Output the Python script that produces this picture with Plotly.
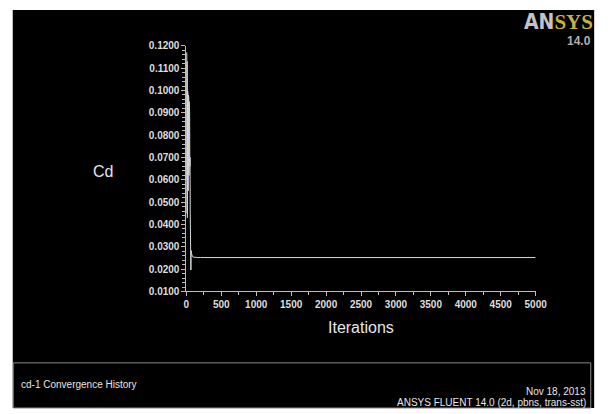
import plotly.graph_objects as go

# ---- data ----
iterations = [1, 4, 7, 10, 13, 16, 19, 22, 25, 28, 31, 34, 37, 40, 43, 46, 49, 52,
              55, 58, 61, 64, 68, 72, 78, 85, 95, 110, 130, 160, 200, 300, 500,
              1000, 2000, 3000, 4000, 5000]
cd_values = [0.060, 0.117, 0.045, 0.113, 0.043, 0.100, 0.050, 0.099, 0.055, 0.098,
             0.060, 0.097, 0.062, 0.095, 0.064, 0.090, 0.066, 0.070, 0.045, 0.040,
             0.030, 0.0196, 0.0283, 0.0272, 0.0262, 0.0257, 0.0254, 0.0253, 0.0252,
             0.0252, 0.0252, 0.0252, 0.0252, 0.0252, 0.0252, 0.0252, 0.0252, 0.0252]

y_ticks = [0.01, 0.02, 0.03, 0.04, 0.05, 0.06, 0.07, 0.08, 0.09, 0.10, 0.11, 0.12]
y_tick_labels = ["0.0100", "0.0200", "0.0300", "0.0400", "0.0500", "0.0600",
                 "0.0700", "0.0800", "0.0900", "0.1000", "0.1100", "0.1200"]
x_ticks = [0, 500, 1000, 1500, 2000, 2500, 3000, 3500, 4000, 4500, 5000]

title_left = "cd-1 Convergence History"
date_text = "Nov 18, 2013"
solver_text = "ANSYS FLUENT 14.0 (2d, pbns, trans-sst)"

W, H = 613, 414
def px(x): return x / W
def py(y): return 1 - y / H

FONT = "Liberation Sans, Arial, sans-serif"
TXT = "#e6e6e6"

fig = go.Figure()
fig.add_trace(go.Scatter(x=iterations, y=cd_values, mode="lines",
                         line=dict(color="#d8d8d8", width=1), hoverinfo="skip"))

axis_common = dict(showgrid=False, zeroline=False, showline=True, linecolor="#bdbdbd",
                   linewidth=1, ticks="outside", ticklen=4, tickcolor="#bdbdbd",
                   tickfont=dict(family=FONT, size=10, color="#dedede", weight="bold"))

fig.update_layout(
    width=W, height=H, margin=dict(l=0, r=0, t=0, b=0),
    paper_bgcolor="white", plot_bgcolor="black", showlegend=False,
    xaxis=dict(domain=[px(188), px(546)], range=[0, 5000], tickvals=x_ticks,
               ticktext=[str(v) for v in x_ticks],
               minor=dict(dtick=250, ticks="outside", ticklen=3, tickcolor="#bdbdbd"),
               **axis_common),
    yaxis=dict(domain=[py(294), py(41)], range=[0.01, 0.12], tickvals=y_ticks,
               ticktext=y_tick_labels,
               minor=dict(dtick=0.002, tick0=0.01, ticks="outside", ticklen=3,
                          tickcolor="#bdbdbd"),
               **axis_common),
)

shapes = [
    dict(type="rect", xref="paper", yref="paper", x0=px(10), x1=px(606), y0=py(414), y1=py(4),
         fillcolor="black", line=dict(width=0), layer="below"),
    dict(type="rect", xref="paper", yref="paper", x0=px(10.5), x1=px(602.5), y0=py(414), y1=py(367.5),
         fillcolor="rgba(0,0,0,0)", line=dict(color="#8a8a8a", width=1), layer="above"),
]
fig.update_layout(shapes=shapes)

logo_text = ("<b>AN</b><span style='font-family:Liberation Serif, serif;color:#c8b143'>"
             "<b>SYS</b></span>")

ann = [
    dict(x=px(103), y=py(170), text="Cd", font=dict(family=FONT, size=16, color=TXT)),
    dict(x=px(367), y=py(331), text="Iterations", font=dict(family=FONT, size=16, color=TXT)),
    dict(x=px(16), y=py(390), text=title_left, xanchor="left",
         font=dict(family=FONT, size=10, color=TXT)),
    dict(x=px(600), y=py(397), text=date_text, xanchor="right",
         font=dict(family=FONT, size=10, color=TXT)),
    dict(x=px(600), y=py(408), text=solver_text, xanchor="right",
         font=dict(family=FONT, size=10, color=TXT)),
    dict(x=px(607), y=py(16), text=logo_text, xanchor="right",
         font=dict(family="DejaVu Sans Condensed, " + FONT, size=21, color="#c4c4c4")),
    dict(x=px(605), y=py(36), text="<b>14.0</b>", xanchor="right",
         font=dict(family=FONT, size=12, color="#b0b0b0")),
]
for a in ann:
    a.setdefault("xanchor", "center")
    fig.add_annotation(xref="paper", yref="paper", showarrow=False, yanchor="middle", **a)

fig.write_html("out.html", config={"displayModeBar": False},
               post_script="document.body.style.margin='0';document.body.style.overflow='hidden';")
